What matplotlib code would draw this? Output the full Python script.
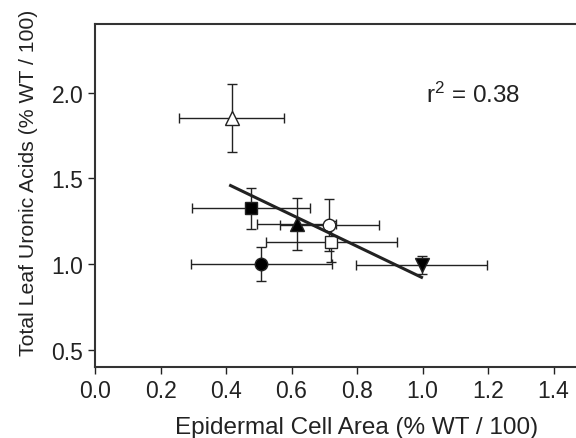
import numpy as np
import matplotlib.pyplot as plt

plt.rcParams['font.family'] = ['Liberation Sans', 'DejaVu Sans']
plt.rcParams['mathtext.fontset'] = 'custom'
plt.rcParams['mathtext.rm'] = 'Liberation Sans'
plt.rcParams['mathtext.it'] = 'Liberation Sans'

# points: x, y, x error, y error, marker, face colour
px = [0.417, 0.477, 0.616, 0.716, 0.721, 0.508, 0.997]
py = [1.851, 1.326, 1.234, 1.228, 1.131, 0.999, 0.995]
xerr = [0.16, 0.18, 0.12, 0.15, 0.20, 0.215, 0.20]
yerr = [0.20, 0.12, 0.15, 0.15, 0.12, 0.10, 0.05]
marks = ['^', 's', '^', 'o', 's', 'o', 'v']
faces = ['white', 'black', 'black', 'white', 'white', 'black', 'black']

# regression line end points
fit_x = [0.414, 0.997]
fit_y = [1.458, 0.923]

ink = '#222222'

fig = plt.figure(figsize=(5.76, 4.39), dpi=100)
ax = fig.add_axes([95/576, 1-368/439, 1-95/576, (368-25)/439])

for i in range(len(px)):
	ax.errorbar(px[i], py[i], xerr=xerr[i], yerr=yerr[i], fmt='none',
		ecolor=ink, elinewidth=1.0, capsize=3.5, capthick=1.0, zorder=2)
for i in range(len(px)):
	ms = 9 if marks[i] in ('o', 's') else 10
	ax.plot(px[i], py[i], marker=marks[i], ms=ms, mfc=faces[i], mec=ink,
		mew=1.0, ls='none', zorder=3)

ax.plot(fit_x, fit_y, color=ink, lw=2.2, zorder=4)

ax.text(1.011, 1.946, r'r$^{\mathrm{2}}$ = 0.38', fontsize=17.5, color=ink,
	ha='left', va='baseline')

ax.set_xlim(0, (576-95)/327.5)
ax.set_ylim(0.4, 2.4)
ax.set_xticks([0.0, 0.2, 0.4, 0.6, 0.8, 1.0, 1.2, 1.4])
ax.set_yticks([0.5, 1.0, 1.5, 2.0])
ax.tick_params(direction='out', length=5, width=1.0, colors=ink,
	labelsize=16.5, labelcolor=ink)
for s in ['left', 'bottom', 'top']:
	ax.spines[s].set_linewidth(1.5)
	ax.spines[s].set_color('#333333')
ax.spines['right'].set_visible(False)

ax.set_xlabel('Epidermal Cell Area (% WT / 100)', fontsize=17.5, color=ink)
ax.set_ylabel('Total Leaf Uronic Acids (% WT / 100)', fontsize=15.3, color=ink)
ax.xaxis.set_label_coords((357-95)/481, -0.143)
ax.yaxis.set_label_coords((38-95)/481, (368-183)/343)

fig.savefig('out.png', dpi=100)
